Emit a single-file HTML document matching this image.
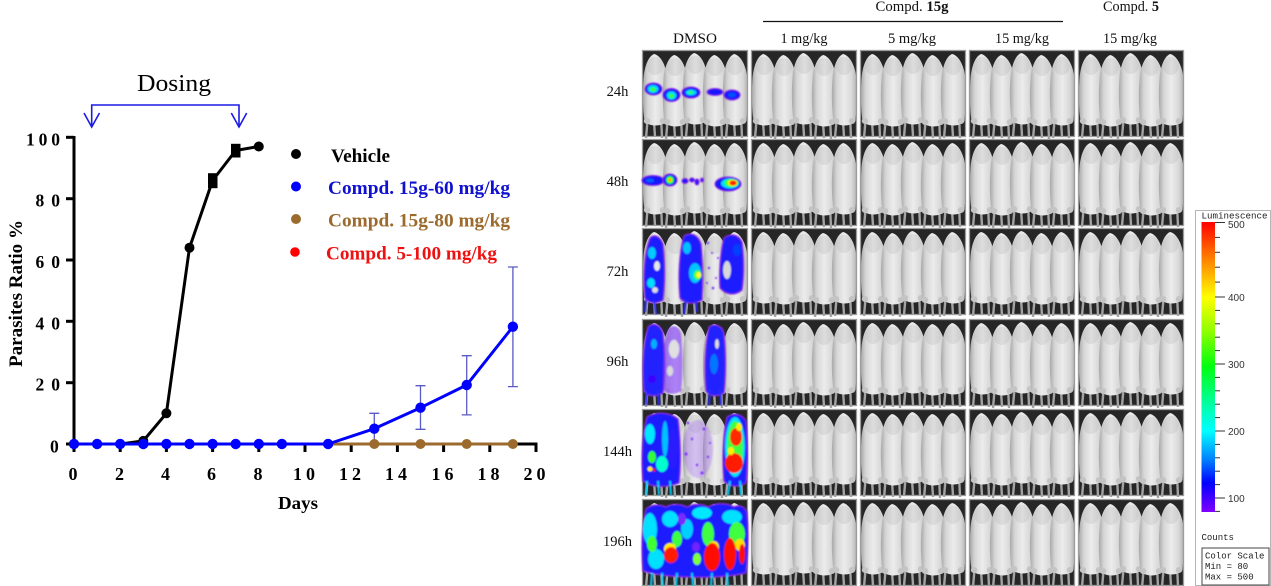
<!DOCTYPE html>
<html><head><meta charset="utf-8">
<style>
html,body{margin:0;padding:0;background:#fff;}
body{width:1271px;height:586px;overflow:hidden;}
svg{display:block;}
.ser{font-family:"Liberation Serif",serif;}
.mono{font-family:"Liberation Mono",monospace;}
</style></head>
<body>
<svg width="1271" height="586" viewBox="0 0 1271 586" xmlns="http://www.w3.org/2000/svg">
<defs>
  <linearGradient id="bodyg" x1="0" y1="0" x2="1" y2="0">
    <stop offset="0" stop-color="#a8a8a8"/>
    <stop offset="0.2" stop-color="#d6d6d6"/>
    <stop offset="0.5" stop-color="#ececec"/>
    <stop offset="0.8" stop-color="#d8d8d8"/>
    <stop offset="1" stop-color="#b0b0b0"/>
  </linearGradient>
  <linearGradient id="cbar" x1="0" y1="0" x2="0" y2="1">
    <stop offset="0" stop-color="#ff0000"/>
    <stop offset="0.12" stop-color="#ff7a00"/>
    <stop offset="0.26" stop-color="#ffff00"/>
    <stop offset="0.38" stop-color="#8cff00"/>
    <stop offset="0.5" stop-color="#00ff10"/>
    <stop offset="0.62" stop-color="#00ff9a"/>
    <stop offset="0.72" stop-color="#00ffff"/>
    <stop offset="0.82" stop-color="#0080ff"/>
    <stop offset="0.9" stop-color="#0000ff"/>
    <stop offset="1" stop-color="#8000ff"/>
  </linearGradient>
  <filter id="bl" x="-10%" y="-10%" width="120%" height="120%"><feGaussianBlur stdDeviation="0.8"/></filter>
  <g id="mouse">
    <path d="M-7,64 L-9,87 M6,64 L7,87 M-1,70 L0,86" stroke="#a4a4a4" stroke-width="2.4" fill="none"/>
    <path d="M-10.5,70 C-12.5,55 -12.5,40 -11.5,28 C-10.5,14 -6,5 -1,3 C5,4 11.5,14 12.5,28 C13.5,42 12.5,58 11.5,70 C7,76 -6,76 -10.5,70 Z" fill="url(#bodyg)"/>
    <ellipse cx="0" cy="15" rx="8" ry="9" fill="#999" opacity="0.18"/>
    <ellipse cx="-8" cy="70" rx="3.2" ry="3" fill="#c4c4c4"/>
    <ellipse cx="8" cy="70" rx="3.2" ry="3" fill="#c4c4c4"/>
  </g>
  <g id="pnl">
    <rect x="0" y="0" width="106" height="87" fill="#262626"/>
    <use href="#mouse" x="13" y="1"/>
    <use href="#mouse" x="33" y="2"/>
    <use href="#mouse" x="53" y="0"/>
    <use href="#mouse" x="73" y="2"/>
    <use href="#mouse" x="93" y="1"/>
    <rect x="0.5" y="0.5" width="105" height="86" fill="none" stroke="#9c9c9c" stroke-width="1.3"/>
  </g>
</defs>

<!-- ================= LEFT CHART ================= -->
<text class="ser" x="137" y="91" font-size="24" textLength="74" lengthAdjust="spacingAndGlyphs">Dosing</text>
<g stroke="#1c1ce6" stroke-width="1.6" fill="none">
  <path d="M91.7,127 L91.7,105 L239,105 L239,127"/>
  <path d="M84,113 L91.7,127 L99.5,113"/>
  <path d="M231.3,113 L239,127 L246.7,113"/>
</g>

<g stroke="#000" stroke-width="3" fill="none">
  <line x1="74" y1="136" x2="74" y2="445.5"/>
  <line x1="72.5" y1="444" x2="537.5" y2="444"/>
  <line x1="66" y1="137.3" x2="74" y2="137.3"/>
  <line x1="66" y1="198.7" x2="74" y2="198.7"/>
  <line x1="66" y1="260" x2="74" y2="260"/>
  <line x1="66" y1="321.3" x2="74" y2="321.3"/>
  <line x1="66" y1="382.7" x2="74" y2="382.7"/>
  <line x1="66" y1="444" x2="74" y2="444"/>
  <line x1="74" y1="444" x2="74" y2="452"/>
  <line x1="120.2" y1="444" x2="120.2" y2="452"/>
  <line x1="166.4" y1="444" x2="166.4" y2="452"/>
  <line x1="212.6" y1="444" x2="212.6" y2="452"/>
  <line x1="258.8" y1="444" x2="258.8" y2="452"/>
  <line x1="305" y1="444" x2="305" y2="452"/>
  <line x1="351.2" y1="444" x2="351.2" y2="452"/>
  <line x1="397.4" y1="444" x2="397.4" y2="452"/>
  <line x1="443.6" y1="444" x2="443.6" y2="452"/>
  <line x1="489.8" y1="444" x2="489.8" y2="452"/>
  <line x1="536" y1="444" x2="536" y2="452"/>
</g>

<g class="ser" font-size="17.5" font-weight="bold" fill="#000">
  <text x="26" y="145.5" textLength="34" lengthAdjust="spacing">100</text>
  <text x="35.5" y="206.7" textLength="24.5" lengthAdjust="spacing">80</text>
  <text x="35.5" y="268" textLength="24.5" lengthAdjust="spacing">60</text>
  <text x="35.5" y="329.3" textLength="24.5" lengthAdjust="spacing">40</text>
  <text x="35.5" y="390.7" textLength="24.5" lengthAdjust="spacing">20</text>
  <text x="50" y="452.5">0</text>
</g>
<g class="ser" font-size="18" font-weight="bold" fill="#000" text-anchor="middle">
  <text x="73" y="480">0</text>
  <text x="119.5" y="480">2</text>
  <text x="165.5" y="480">4</text>
  <text x="211.5" y="480">6</text>
  <text x="258" y="480">8</text>
  <text x="304" y="480" textLength="22" lengthAdjust="spacing">10</text>
  <text x="350" y="480" textLength="22" lengthAdjust="spacing">12</text>
  <text x="396" y="480" textLength="22" lengthAdjust="spacing">14</text>
  <text x="442.5" y="480" textLength="22" lengthAdjust="spacing">16</text>
  <text x="488.5" y="480" textLength="22" lengthAdjust="spacing">18</text>
  <text x="534.5" y="480" textLength="22" lengthAdjust="spacing">20</text>
</g>
<text class="ser" x="278" y="509" font-size="18" font-weight="bold" textLength="40" lengthAdjust="spacingAndGlyphs">Days</text>
<text class="ser" transform="translate(22,367) rotate(-90)" font-size="19" font-weight="bold" textLength="147" lengthAdjust="spacingAndGlyphs">Parasites Ratio %</text>

<polyline points="74,444 97.1,444 120.2,444 143.3,440.9 166.4,413.3 189.5,247.7 212.6,180.5 235.7,150.5 258.8,146.5" fill="none" stroke="#000" stroke-width="3" stroke-linejoin="round"/>
<g fill="#000">
  <circle cx="143.3" cy="440.9" r="5"/>
  <circle cx="166.4" cy="413.3" r="5"/>
  <circle cx="189.5" cy="247.7" r="5"/>
  <circle cx="258.8" cy="146.5" r="5"/>
  <rect x="208" y="178.7" width="9.5" height="9.5"/>
  <rect x="208" y="173.2" width="9.5" height="9.5"/>
  <rect x="231" y="148" width="9.5" height="9.5"/>
  <rect x="231" y="143.8" width="9.5" height="9.5"/>
</g>

<line x1="328.1" y1="444" x2="512.9" y2="444" stroke="#9b6a2c" stroke-width="3"/>

<g stroke="#5a5ac6" stroke-width="1.3" fill="none">
  <path d="M374.3,413.3 L374.3,444 M369.3,413.3 L379.3,413.3"/>
  <path d="M420.5,385.7 L420.5,429.3 M415.5,385.7 L425.5,385.7 M415.5,429.3 L425.5,429.3"/>
  <path d="M466.7,355.7 L466.7,414.9 M461.7,355.7 L471.7,355.7 M461.7,414.9 L471.7,414.9"/>
  <path d="M512.9,267 L512.9,386.6 M507.9,267 L517.9,267 M507.9,386.6 L517.9,386.6"/>
</g>

<polyline points="74,444 328.1,444 374.3,428.7 420.5,407.7 466.7,385 512.9,326.7" fill="none" stroke="#0000ff" stroke-width="3" stroke-linejoin="round"/>
<g fill="#0000ff">
  <circle cx="74" cy="444" r="5.2"/>
  <circle cx="97.1" cy="444" r="5.2"/>
  <circle cx="120.2" cy="444" r="5.2"/>
  <circle cx="143.3" cy="444" r="5.2"/>
  <circle cx="166.4" cy="444" r="5.2"/>
  <circle cx="189.5" cy="444" r="5.2"/>
  <circle cx="212.6" cy="444" r="5.2"/>
  <circle cx="235.7" cy="444" r="5.2"/>
  <circle cx="258.8" cy="444" r="5.2"/>
  <circle cx="281.9" cy="444" r="5.2"/>
  <circle cx="328.1" cy="444" r="5.2"/>
  <circle cx="374.3" cy="428.7" r="5.2"/>
  <circle cx="420.5" cy="407.7" r="5.2"/>
  <circle cx="466.7" cy="385" r="5.2"/>
  <circle cx="512.9" cy="326.7" r="5.2"/>
</g>
<g fill="#9b6a2c">
  <circle cx="374.3" cy="444" r="5"/>
  <circle cx="420.5" cy="444" r="5"/>
  <circle cx="466.7" cy="444" r="5"/>
  <circle cx="512.9" cy="444" r="5"/>
</g>

<circle cx="296" cy="154" r="5" fill="#000"/>
<circle cx="296" cy="186.5" r="5" fill="#0000ff"/>
<circle cx="296" cy="219" r="5" fill="#9b6a2c"/>
<circle cx="295" cy="252" r="4.8" fill="#ff0000"/>
<g class="ser" font-size="18.5" font-weight="bold">
  <text x="331" y="162" fill="#000" textLength="59" lengthAdjust="spacingAndGlyphs">Vehicle</text>
  <text x="328" y="194" fill="#1010d0" textLength="182" lengthAdjust="spacingAndGlyphs">Compd. 15g-60 mg/kg</text>
  <text x="328" y="226.5" fill="#9b6a2c" textLength="182" lengthAdjust="spacingAndGlyphs">Compd. 15g-80 mg/kg</text>
  <text x="326" y="259.5" fill="#ee1111" textLength="171" lengthAdjust="spacingAndGlyphs">Compd. 5-100 mg/kg</text>
</g>

<!-- ================= RIGHT IMAGE GRID ================= -->
<g class="ser" font-size="14.5" fill="#111" text-anchor="middle">
  <text x="912" y="11" textLength="73" lengthAdjust="spacingAndGlyphs">Compd. <tspan font-weight="bold">15g</tspan></text>
  <text x="1131" y="11" textLength="56" lengthAdjust="spacingAndGlyphs">Compd. <tspan font-weight="bold">5</tspan></text>
  <text x="695" y="43" textLength="44" lengthAdjust="spacingAndGlyphs">DMSO</text>
  <text x="804" y="43" textLength="47" lengthAdjust="spacingAndGlyphs">1 mg/kg</text>
  <text x="912" y="43" textLength="48" lengthAdjust="spacingAndGlyphs">5 mg/kg</text>
  <text x="1022" y="43" textLength="54" lengthAdjust="spacingAndGlyphs">15 mg/kg</text>
  <text x="1130" y="43" textLength="54" lengthAdjust="spacingAndGlyphs">15 mg/kg</text>
  <text x="617.5" y="96">24h</text>
  <text x="617.5" y="186">48h</text>
  <text x="617.5" y="276">72h</text>
  <text x="617.5" y="366">96h</text>
  <text x="617.5" y="456">144h</text>
  <text x="617.5" y="546">196h</text>
</g>
<line x1="763" y1="21.5" x2="1063" y2="21.5" stroke="#111" stroke-width="1.3"/>

<g>
  <use href="#pnl" x="642" y="50"/><use href="#pnl" x="751" y="50"/><use href="#pnl" x="860" y="50"/><use href="#pnl" x="969" y="50"/><use href="#pnl" x="1078" y="50"/>
  <use href="#pnl" x="642" y="139"/><use href="#pnl" x="751" y="139"/><use href="#pnl" x="860" y="139"/><use href="#pnl" x="969" y="139"/><use href="#pnl" x="1078" y="139"/>
  <use href="#pnl" x="642" y="228"/><use href="#pnl" x="751" y="228"/><use href="#pnl" x="860" y="228"/><use href="#pnl" x="969" y="228"/><use href="#pnl" x="1078" y="228"/>
  <use href="#pnl" x="642" y="319"/><use href="#pnl" x="751" y="319"/><use href="#pnl" x="860" y="319"/><use href="#pnl" x="969" y="319"/><use href="#pnl" x="1078" y="319"/>
  <use href="#pnl" x="642" y="409"/><use href="#pnl" x="751" y="409"/><use href="#pnl" x="860" y="409"/><use href="#pnl" x="969" y="409"/><use href="#pnl" x="1078" y="409"/>
  <use href="#pnl" x="642" y="499"/><use href="#pnl" x="751" y="499"/><use href="#pnl" x="860" y="499"/><use href="#pnl" x="969" y="499"/><use href="#pnl" x="1078" y="499"/>
</g>

<!-- DMSO 24h -->
<g transform="translate(642,50)" filter="url(#bl)">
  <g stroke="#8a2be2" stroke-width="1" fill="#1515ff">
    <ellipse cx="11.5" cy="39" rx="8.5" ry="6"/>
    <ellipse cx="29.5" cy="45" rx="8.5" ry="6.5"/>
    <ellipse cx="49" cy="42.5" rx="9" ry="5.5"/>
    <ellipse cx="73" cy="42" rx="8" ry="3.5"/>
    <ellipse cx="90" cy="45" rx="8" ry="5"/>
  </g>
  <g fill="#00d8ff">
    <ellipse cx="11" cy="39" rx="5.5" ry="4"/>
    <ellipse cx="29.5" cy="45.5" rx="5" ry="4.2"/>
    <ellipse cx="49" cy="42.5" rx="5.5" ry="3"/>
  </g>
  <g fill="#30ff40">
    <ellipse cx="11" cy="39.5" rx="3" ry="2.2"/>
    <ellipse cx="29.5" cy="46" rx="2.5" ry="2.5"/>
    <ellipse cx="48.5" cy="42.5" rx="2.5" ry="1.5"/>
  </g>
  <ellipse cx="90" cy="45" rx="4" ry="2.5" fill="#0050ff"/>
</g>

<!-- DMSO 48h -->
<g transform="translate(642,139)" filter="url(#bl)">
  <g stroke="#8a2be2" stroke-width="1" fill="#1515ff">
    <ellipse cx="11" cy="41.5" rx="11" ry="5"/>
    <ellipse cx="28" cy="41" rx="7" ry="6"/>
    <ellipse cx="43" cy="42" rx="3" ry="2.5"/>
    <ellipse cx="50" cy="41" rx="2.5" ry="2"/>
    <ellipse cx="55" cy="43" rx="2" ry="3"/>
    <ellipse cx="60" cy="41" rx="1.5" ry="2"/>
    <ellipse cx="86" cy="45" rx="13" ry="7"/>
  </g>
  <ellipse cx="8" cy="41.5" rx="4" ry="2" fill="#0060ff"/>
  <ellipse cx="28" cy="41" rx="4" ry="4" fill="#20ff30"/>
  <ellipse cx="28" cy="41" rx="2" ry="2" fill="#ffee00"/>
  <ellipse cx="28" cy="41" rx="1" ry="1" fill="#ff0000"/>
  <ellipse cx="88" cy="44.5" rx="9" ry="5" fill="#00e0ff"/>
  <ellipse cx="89.5" cy="44" rx="7" ry="4" fill="#30ff30"/>
  <ellipse cx="90.5" cy="44" rx="5" ry="3.2" fill="#ffee00"/>
  <ellipse cx="91" cy="44" rx="3.5" ry="2.5" fill="#ff2000"/>
</g>

<!-- DMSO 72h -->
<g transform="translate(642,228)" filter="url(#bl)">
  <g stroke="#8a2be2" stroke-width="1.2" fill="#1a1aff">
    <path d="M3,70 C1,50 2,25 8,10 C12,6 18,8 21,16 C23,35 23,55 21,72 C15,76 7,76 3,70 Z"/>
    <path d="M38,70 C36,50 37,25 42,8 C48,4 56,6 59,16 C61,35 61,55 60,72 C52,77 43,76 38,70 Z"/>
    <path d="M78,60 C77,45 78,25 82,10 C88,5 96,6 100,14 C102,30 102,48 100,62 C93,68 84,67 78,60 Z"/>
  </g>
  <ellipse cx="10" cy="25" rx="4" ry="6" fill="#00ccff"/>
  <ellipse cx="9" cy="55" rx="4" ry="5" fill="#00ddff"/>
  <ellipse cx="15" cy="38" rx="3" ry="5" fill="#e8e8e8"/>
  <ellipse cx="13" cy="62" rx="3" ry="3" fill="#dcdcdc"/>
  <ellipse cx="45" cy="20" rx="4" ry="6" fill="#00c0ff"/>
  <ellipse cx="53" cy="45" rx="6" ry="10" fill="#00c8ff"/>
  <ellipse cx="55.5" cy="47" rx="4" ry="5" fill="#40ff40"/>
  <ellipse cx="56.5" cy="47" rx="2.5" ry="3" fill="#ffff30"/>
  <ellipse cx="85" cy="42" rx="4" ry="9" fill="#d8d8d8"/>
  <ellipse cx="95" cy="22" rx="4" ry="6" fill="#0040ff"/>
  <g fill="#7b2fff">
    <circle cx="66" cy="15" r="1.2"/><circle cx="70" cy="25" r="1"/><circle cx="67" cy="40" r="1.2"/><circle cx="74" cy="50" r="1"/><circle cx="71" cy="60" r="1.3"/><circle cx="76" cy="30" r="1"/><circle cx="65" cy="55" r="1"/>
  </g>
  <path d="M4,72 L3,84 M12,72 L14,86 M44,72 L42,86 M54,72 L55,84" stroke="#2a2aff" stroke-width="2"/>
</g>

<!-- DMSO 96h -->
<g transform="translate(642,319)" filter="url(#bl)">
  <g stroke="#8a2be2" stroke-width="1.2" fill="#2020ff">
    <path d="M2,72 C0,50 1,25 6,8 C11,3 18,5 21,14 C23,35 23,55 21,74 C14,78 6,78 2,72 Z"/>
    <path d="M64,72 C62,50 63,25 67,8 C72,4 80,6 82,14 C84,35 84,55 82,74 C75,78 68,78 64,72 Z"/>
  </g>
  <path d="M21,70 C20,50 21,25 26,10 C31,5 37,7 39,15 C41,35 41,55 39,72 C33,76 25,76 21,70 Z" fill="#7a2aff" opacity="0.55"/>
  <ellipse cx="32" cy="30" rx="5" ry="9" fill="#e0e0e0"/>
  <ellipse cx="28" cy="52" rx="3" ry="5" fill="#d8d8d8"/>
  <ellipse cx="12" cy="25" rx="3" ry="5" fill="#00b0ff"/>
  <ellipse cx="10" cy="60" rx="4" ry="4" fill="#3a00ff"/>
  <ellipse cx="72" cy="45" rx="4" ry="10" fill="#0077ff"/>
  <ellipse cx="75" cy="25" rx="2" ry="5" fill="#dddddd"/>
  <path d="M5,72 L4,86 M16,72 L17,86 M68,70 L67,86 M78,70 L79,86" stroke="#2a2aff" stroke-width="2"/>
</g>

<!-- DMSO 144h -->
<g transform="translate(642,409)" filter="url(#bl)">
  <path d="M1,72 C-1,50 0,25 5,8 C14,2 28,3 36,10 C39,35 39,55 37,74 C25,79 10,79 1,72 Z" fill="#1a1aff" stroke="#8a2be2" stroke-width="1.2"/>
  <ellipse cx="8" cy="25" rx="5" ry="10" fill="#00e8ff"/>
  <ellipse cx="20" cy="55" rx="6" ry="8" fill="#00ffcc"/>
  <ellipse cx="10" cy="48" rx="4" ry="6" fill="#30ff30"/>
  <ellipse cx="23" cy="30" rx="3" ry="18" fill="#00c0ff"/>
  <ellipse cx="8" cy="60" rx="2.5" ry="2.5" fill="#ffee00"/>
  <ellipse cx="12" cy="61" rx="1.5" ry="1.5" fill="#ff0000"/>
  <ellipse cx="31" cy="40" rx="5" ry="20" fill="#2a1aff"/>
  <ellipse cx="56" cy="40" rx="15" ry="29" fill="#8a3aff" opacity="0.25"/>
  <g fill="#7b2fff">
    <circle cx="46" cy="14" r="1.3"/><circle cx="50" cy="30" r="1.2"/><circle cx="44" cy="45" r="1.5"/><circle cx="55" cy="56" r="1.2"/><circle cx="62" cy="20" r="1.4"/><circle cx="66" cy="48" r="1.2"/><circle cx="60" cy="64" r="1.5"/><circle cx="68" cy="34" r="1"/>
  </g>
  <path d="M82,72 C80,50 81,25 85,8 C92,3 100,5 104,12 C106,35 106,55 104,74 C96,79 87,78 82,72 Z" fill="#1a1aff" stroke="#8a2be2" stroke-width="1.2"/>
  <ellipse cx="93" cy="38" rx="10" ry="30" fill="#00e0ff"/>
  <ellipse cx="93" cy="38" rx="8" ry="26" fill="#40ff40"/>
  <ellipse cx="94" cy="28" rx="6" ry="9" fill="#ff2a00"/>
  <ellipse cx="92" cy="54" rx="9" ry="10" fill="#ff1a00"/>
  <ellipse cx="89" cy="42" rx="3" ry="4" fill="#ffee00"/>
  <ellipse cx="97" cy="18" rx="3" ry="4" fill="#ffee00"/>
  <path d="M5,72 L4,86 M16,72 L17,86 M28,72 L29,86 M88,72 L86,86 M98,72 L99,86" stroke="#00d0ff" stroke-width="2"/>
</g>

<!-- DMSO 196h -->
<g transform="translate(642,499)" filter="url(#bl)">
  <path d="M1,72 C-1,50 0,25 4,10 C10,4 20,6 24,8 C30,4 40,5 45,8 C52,4 62,5 66,8 C74,3 86,4 92,8 C98,5 104,8 105,14 C107,35 106,55 104,74 C80,80 25,80 1,72 Z" fill="#1a1aff" stroke="#8a2be2" stroke-width="1.2"/>
  <ellipse cx="8" cy="30" rx="7" ry="16" fill="#00e0ff"/>
  <ellipse cx="28" cy="20" rx="8" ry="8" fill="#00e0ff"/>
  <ellipse cx="45" cy="30" rx="6" ry="10" fill="#00d0ff"/>
  <ellipse cx="60" cy="14" rx="10" ry="6" fill="#00e8ff"/>
  <ellipse cx="90" cy="18" rx="10" ry="7" fill="#00e0ff"/>
  <ellipse cx="14" cy="60" rx="8" ry="10" fill="#00e0ff"/>
  <ellipse cx="10" cy="45" rx="5" ry="8" fill="#40ff30"/>
  <ellipse cx="35" cy="40" rx="5" ry="8" fill="#40ff40"/>
  <ellipse cx="66" cy="35" rx="6" ry="12" fill="#40ff40"/>
  <ellipse cx="95" cy="35" rx="8" ry="12" fill="#40ff40"/>
  <ellipse cx="55" cy="60" rx="4" ry="6" fill="#80ff30"/>
  <ellipse cx="28" cy="50" rx="6" ry="6" fill="#ffee00"/>
  <ellipse cx="72" cy="48" rx="5" ry="6" fill="#ffdd00"/>
  <ellipse cx="98" cy="46" rx="5" ry="6" fill="#ffdd00"/>
  <ellipse cx="29" cy="56" rx="7" ry="8" fill="#ff1a00"/>
  <ellipse cx="70" cy="58" rx="8" ry="14" fill="#ff1000"/>
  <ellipse cx="88" cy="55" rx="6" ry="16" fill="#ff1000"/>
  <ellipse cx="100" cy="55" rx="3" ry="10" fill="#ff1000"/>
  <ellipse cx="40" cy="20" rx="4" ry="6" fill="#7a2aff"/>
  <ellipse cx="54" cy="48" rx="4" ry="5" fill="#7020ff"/>
  <path d="M10,74 L9,87 M20,74 L21,87 M35,74 L34,87 M50,74 L51,87 M70,74 L69,87 M85,74 L86,87" stroke="#00d0ff" stroke-width="2"/>
</g>

<!-- ================= COLOR BAR ================= -->
<rect x="1195.5" y="210.5" width="75" height="375" fill="#fff" stroke="#b4b4b4" stroke-width="1"/>
<text class="mono" x="1201.5" y="218.5" font-size="9" fill="#222" textLength="66" lengthAdjust="spacingAndGlyphs">Luminescence</text>
<rect x="1201.5" y="222" width="13.5" height="290" fill="url(#cbar)"/>
<g stroke="#333" stroke-width="1">
  <line x1="1215" y1="222.5" x2="1225" y2="222.5"/>
  <line x1="1215" y1="297" x2="1225" y2="297"/>
  <line x1="1215" y1="364" x2="1225" y2="364"/>
  <line x1="1215" y1="431" x2="1225" y2="431"/>
  <line x1="1215" y1="498" x2="1225" y2="498"/>
  <line x1="1215" y1="237.4" x2="1220" y2="237.4"/>
  <line x1="1215" y1="252.3" x2="1220" y2="252.3"/>
  <line x1="1215" y1="267.2" x2="1220" y2="267.2"/>
  <line x1="1215" y1="282.1" x2="1220" y2="282.1"/>
  <line x1="1215" y1="310.4" x2="1220" y2="310.4"/>
  <line x1="1215" y1="323.8" x2="1220" y2="323.8"/>
  <line x1="1215" y1="337.2" x2="1220" y2="337.2"/>
  <line x1="1215" y1="350.6" x2="1220" y2="350.6"/>
  <line x1="1215" y1="377.4" x2="1220" y2="377.4"/>
  <line x1="1215" y1="390.8" x2="1220" y2="390.8"/>
  <line x1="1215" y1="404.2" x2="1220" y2="404.2"/>
  <line x1="1215" y1="417.6" x2="1220" y2="417.6"/>
  <line x1="1215" y1="444.4" x2="1220" y2="444.4"/>
  <line x1="1215" y1="457.8" x2="1220" y2="457.8"/>
  <line x1="1215" y1="471.2" x2="1220" y2="471.2"/>
  <line x1="1215" y1="484.6" x2="1220" y2="484.6"/>
  <line x1="1215" y1="511.4" x2="1220" y2="511.4"/>
</g>
<g font-family="Liberation Sans, sans-serif" font-size="10" fill="#333">
  <text x="1228" y="228">500</text>
  <text x="1228" y="301">400</text>
  <text x="1228" y="368">300</text>
  <text x="1228" y="435">200</text>
  <text x="1228" y="502">100</text>
</g>
<text class="mono" x="1201.5" y="540" font-size="9" fill="#222">Counts</text>
<rect x="1202" y="548" width="67" height="37" fill="#fff" stroke="#444" stroke-width="1"/>
<g class="mono" font-size="9" fill="#222">
  <text x="1205" y="558.5">Color Scale</text>
  <text x="1205" y="569">Min = 80</text>
  <text x="1205" y="579.5">Max = 500</text>
</g>
</svg>
</body></html>
